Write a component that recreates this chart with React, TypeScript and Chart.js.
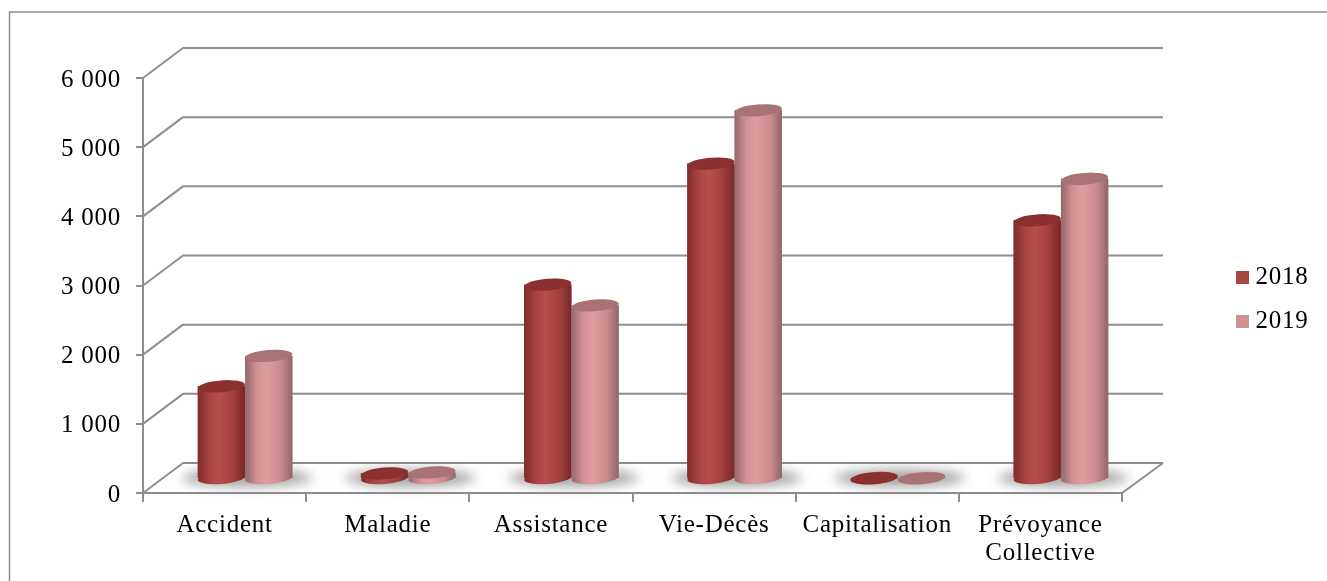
import React, { useEffect, useRef } from "react";
import { Chart, registerables } from "chart.js";

Chart.register(...registerables);

const categories = ["Accident", "Maladie", "Assistance", "Vie-Décès", "Capitalisation", ["Prévoyance", "Collective"]];
const values2018 = [1340, 80, 2810, 4560, 10, 3740];
const values2019 = [1780, 95, 2510, 5330, 10, 4340];
const seriesNames = ["2018", "2019"];
const seriesColors = ["#A94543", "#D09193"];
const gradientStops = [
  ["#7E2D2C", "#A94341", "#B64F4C", "#A23F3D", "#752827"],
  ["#94686A", "#D29193", "#DF9C9E", "#CB8C8E", "#8F6668"],
];
const capColors = ["#8A302F", "#A87375"];
const yMax = 6000;
const yStep = 1000;

const GRID = "#8E8E8E";
const FONT = { family: "'Liberation Serif', serif", size: 25, lineHeight: 1.13 };
const SPACING = "0.75px";
const DX_BACK = 40;
const DY_BACK = 30;
const DX_BAR = 20.5;
const DY_BAR = 14;
const TILT = -0.08;
const CAP_RATIO = 0.25;

function swatch(color: string) {
  const c = document.createElement("canvas");
  c.width = 13;
  c.height = 13;
  const x = c.getContext("2d")!;
  x.fillStyle = color;
  x.fillRect(0, 0, 13, 13);
  return c;
}

const scenePlugin = {
  id: "scene3d",
  beforeLayout(chart: any) {
    chart.ctx.letterSpacing = SPACING;
  },
  afterLayout(chart: any) {
    const l = chart.legend;
    l.left = 1223;
    l.right = 1327;
    l.top = 246;
    l.bottom = 581;
  },
  beforeDraw(chart: any) {
    const { ctx, width, height } = chart;
    ctx.letterSpacing = SPACING;
    ctx.save();
    ctx.fillStyle = "#fff";
    ctx.fillRect(0, 0, width, height);
    ctx.strokeStyle = "#8E8E8E";
    ctx.lineWidth = 1.5;
    ctx.beginPath();
    ctx.moveTo(9.5, height);
    ctx.lineTo(9.5, 12);
    ctx.lineTo(width, 12);
    ctx.stroke();
    ctx.restore();
  },
  beforeDatasetsDraw(chart: any) {
    const { ctx, chartArea, scales } = chart;
    const y = scales.y;
    const { left, right, bottom } = chartArea;
    ctx.save();
    ctx.strokeStyle = GRID;
    ctx.lineWidth = 2;
    ctx.lineJoin = "round";
    // Back wall and side wall lines, from the value scale
    for (let v = 0; v <= yMax; v += yStep) {
      const py = y.getPixelForValue(v);
      ctx.beginPath();
      ctx.moveTo(left, py);
      ctx.lineTo(left + DX_BACK, py - DY_BACK);
      ctx.lineTo(right + DX_BACK + 1, py - DY_BACK);
      ctx.stroke();
    }
    // Floor right side
    ctx.beginPath();
    ctx.moveTo(right + DX_BACK + 1, bottom - DY_BACK);
    ctx.lineTo(right, bottom);
    ctx.stroke();

    // Floor shadows
    const m0 = chart.getDatasetMeta(0).data;
    const m1 = chart.getDatasetMeta(1).data;
    ctx.filter = "blur(6px)";
    ctx.fillStyle = "rgba(90,90,90,0.6)";
    m0.forEach((el: any, i: number) => {
      const a = el.x - el.width / 2 + DX_BAR;
      const b = m1[i].x + m1[i].width / 2 + DX_BAR;
      ctx.beginPath();
      ctx.ellipse((a + b) / 2 + 2, bottom - DY_BAR - 1, (b - a) / 2 + 18, 8, 0, 0, Math.PI * 2);
      ctx.fill();
    });
    ctx.filter = "none";
    ctx.restore();

    ctx.save();
    ctx.translate(DX_BAR, -DY_BAR);
  },
  afterDatasetsDraw(chart: any) {
    const { ctx } = chart;
    [0, 1].forEach((d) => {
      chart.getDatasetMeta(d).data.forEach((el: any) => {
        const w = el.width;
        const x0 = el.x - w / 2;
        const g = ctx.createLinearGradient(x0, 0, x0 + w, 0);
        const stops = gradientStops[d];
        [0, 0.25, 0.45, 0.75, 1].forEach((p, i) => g.addColorStop(p, stops[i]));
        const rx = w / 2;
        const ry = (w * CAP_RATIO) / 2;
        ctx.fillStyle = g;
        ctx.beginPath();
        ctx.ellipse(el.x, el.base, rx, ry, TILT, 0, Math.PI * 2);
        ctx.fill();
        ctx.fillRect(x0, el.y, w, el.base - el.y);
        ctx.fillStyle = capColors[d];
        ctx.beginPath();
        ctx.ellipse(el.x, el.y, rx, ry, TILT, 0, Math.PI * 2);
        ctx.fill();
      });
    });
    ctx.restore();
  },
};

export default function App() {
  const ref = useRef<HTMLCanvasElement>(null);
  useEffect(() => {
    const chart = new Chart(ref.current!, {
      type: "bar",
      data: {
        labels: categories as any,
        datasets: [
          { label: seriesNames[0], data: values2018, backgroundColor: seriesColors[0], clip: false as any },
          { label: seriesNames[1], data: values2019, backgroundColor: seriesColors[1], clip: false as any },
        ],
      },
      options: {
        animation: false,
        responsive: false,
        devicePixelRatio: 1,
        layout: { padding: { left: 0, right: 205, top: 78, bottom: 0 } },
        datasets: { bar: { categoryPercentage: 0.58, barPercentage: 1 } },
        scales: {
          x: {
            afterFit: (s: any) => { s.height = 88; },
            grid: { drawOnChartArea: false, color: GRID, lineWidth: 2, tickLength: 9, offset: true },
            border: { color: GRID, width: 2 },
            ticks: { font: FONT, color: "#000", padding: 9, maxRotation: 0, minRotation: 0, autoSkip: false },
          },
          y: {
            min: 0,
            max: yMax,
            afterFit: (s: any) => { s.width = 143; },
            grid: { drawOnChartArea: false, color: GRID, lineWidth: 2, tickLength: 7 },
            border: { color: GRID, width: 2 },
            ticks: {
              stepSize: yStep,
              font: FONT,
              color: "#000",
              padding: 15,
              labelOffset: 2,
              callback: (v: any) => (v === 0 ? "0" : `${Math.floor(v / 1000)} ${String(v % 1000).padStart(3, "0")}`),
            },
          },
        },
        plugins: {
          title: { display: false },
          tooltip: { enabled: false },
          legend: {
            position: "chartArea" as any,
            fullSize: false,
            align: "start",
            labels: {
              font: FONT,
              color: "#000",
              padding: 19,
              usePointStyle: true,
              boxWidth: 1,
              boxHeight: 13,
              generateLabels: (c: any) =>
                c.data.datasets.map((d: any, i: number) => ({
                  text: d.label,
                  fillStyle: d.backgroundColor,
                  strokeStyle: "transparent",
                  lineWidth: 0,
                  pointStyle: swatch(d.backgroundColor),
                  datasetIndex: i,
                  hidden: false,
                })),
            },
          },
        },
      },
      plugins: [scenePlugin],
    });
    return () => chart.destroy();
  }, []);
  return (
    <div style={{ position: "fixed", left: 0, top: 0, width: 1327, height: 581, background: "#fff" }}>
      <canvas ref={ref} width={1327} height={581} style={{ display: "block" }} />
    </div>
  );
}
